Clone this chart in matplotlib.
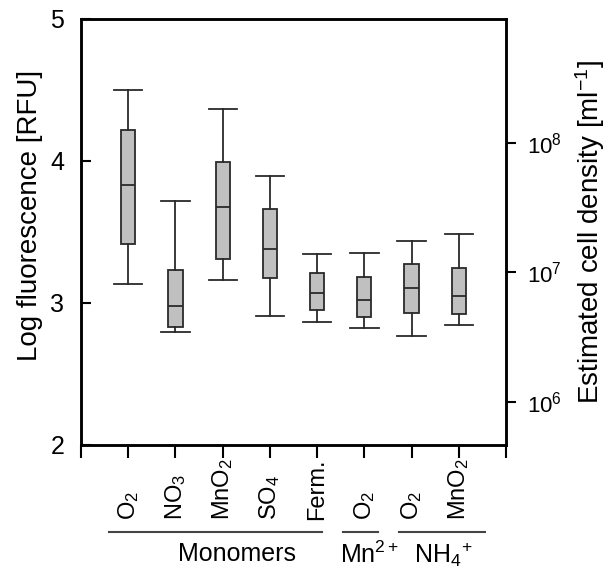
import matplotlib
matplotlib.use("Agg")
import matplotlib.pyplot as plt
import matplotlib.transforms as mtransforms
from matplotlib.lines import Line2D

plt.rcParams['font.family'] = ['Liberation Sans', 'DejaVu Sans']
plt.rcParams['mathtext.fontset'] = 'custom'
plt.rcParams['mathtext.rm'] = 'Liberation Sans'
plt.rcParams['mathtext.it'] = 'Liberation Sans'
plt.rcParams['mathtext.default'] = 'rm'

# ---- data ----
labels = ['O$_2$', 'NO$_3$', 'MnO$_2$', 'SO$_4$', 'Ferm.', 'O$_2$', 'O$_2$', 'MnO$_2$']
whisker_low = [3.131, 2.796, 3.164, 2.906, 2.866, 2.822, 2.770, 2.847]
q1 =          [3.414, 2.833, 3.311, 3.178, 2.953, 2.899, 2.930, 2.925]
median =      [3.831, 2.981, 3.679, 3.379, 3.070, 3.023, 3.108, 3.046]
q3 =          [4.218, 3.234, 3.993, 3.660, 3.208, 3.180, 3.276, 3.246]
whisker_high = [4.501, 3.721, 4.368, 3.897, 3.342, 3.349, 3.436, 3.489]
groups = ['Monomers', 'Mn$^{2+}$', 'NH$_4$$^{+}$']
group_spans = [(0.59, 5.10), (5.55, 6.29), (6.73, 8.56)]
group_centers = [3.30, 6.10, 7.67]
right_ticks = [1e6, 1e7, 1e8]
right_ticklabels = ['10$^{6}$', '10$^{7}$', '10$^{8}$']

fig = plt.figure(figsize=(6.07, 5.71), dpi=100)
ax = fig.add_axes([81/607, 1-445/571, 425/607, 426/571])

stats = []
for i in range(len(labels)):
    stats.append(dict(med=median[i], q1=q1[i], q3=q3[i],
                      whislo=whisker_low[i], whishi=whisker_high[i], fliers=[]))
pos = list(range(1, len(labels)+1))
ec = '#2a2a2a'
ax.bxp(stats, positions=pos, widths=0.3, capwidths=0.6, patch_artist=True,
       showfliers=False,
       boxprops=dict(facecolor='#c0c0c0', edgecolor=ec, linewidth=1.3),
       medianprops=dict(color=ec, linewidth=1.3),
       whiskerprops=dict(color=ec, linewidth=1.3),
       capprops=dict(color=ec, linewidth=1.3),
       manage_ticks=False)

ax.set_xlim(0, 9)
ax.set_ylim(2, 5)
ax.set_yticks([2, 3, 4, 5])
ax.set_yticklabels(['2', '3', '4', '5'], fontsize=18)
ax.set_xticks(range(0, 10))
ax.set_xticklabels([])
ax.tick_params(axis='y', direction='in', length=7, width=1.5, pad=12)
ax.tick_params(axis='x', direction='out', length=9, width=1.5)
for s in ax.spines.values():
    s.set_linewidth(1.8)
ax.set_ylabel('Log fluorescence [RFU]', fontsize=20)
ax.yaxis.set_label_coords(-0.089, 0.54)

trans = mtransforms.blended_transform_factory(ax.transData, ax.transAxes)
for p, lab in zip(pos, labels):
    ax.text(p, -0.176, lab, rotation=90, ha='center', va='bottom',
            fontsize=17, transform=trans)
for (a, b), c, g in zip(group_spans, group_centers, groups):
    ax.add_line(Line2D([a, b], [-0.204, -0.204], color='#444444', lw=1.5,
                       transform=trans, clip_on=False))
    ax.text(c, -0.257, g, ha='center', va='center', fontsize=18, transform=trans)

ax2 = ax.twinx()
ax2.set_yscale('log')
ax2.set_ylim(10**5.665, 10**8.958)
ax2.set_yticks(right_ticks)
ax2.set_yticklabels(right_ticklabels, fontsize=16)
ax2.yaxis.set_minor_locator(matplotlib.ticker.NullLocator())
ax2.tick_params(axis='y', direction='out', length=7, width=1.5, pad=8)
for s in ax2.spines.values():
    s.set_linewidth(1.8)
ax2.set_ylabel('Estimated cell density [ml$^{-1}$]', fontsize=20, labelpad=8)

fig.savefig('out.png', dpi=100)
